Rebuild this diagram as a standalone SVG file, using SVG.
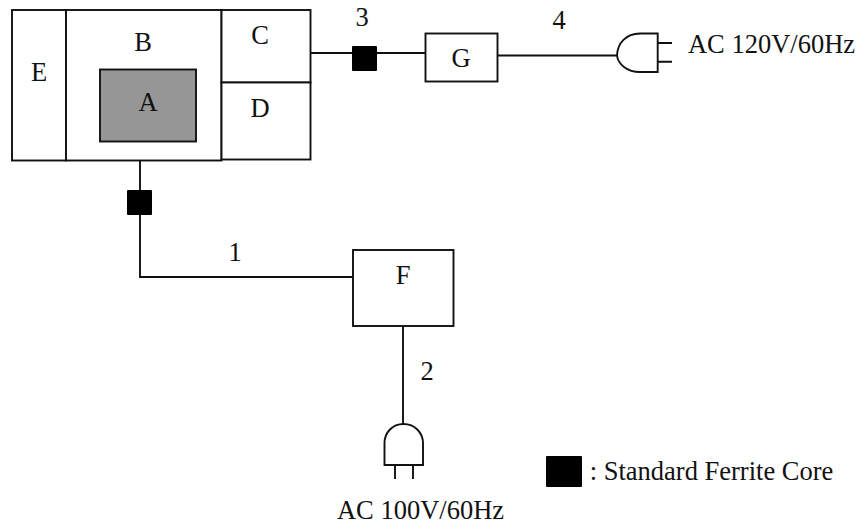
<svg xmlns="http://www.w3.org/2000/svg" width="861" height="526" viewBox="0 0 861 526">
<style>
text{font-family:"Liberation Serif","Times New Roman",serif;font-size:26.5px;fill:#111;text-anchor:middle}
.b{fill:#fff;stroke:#111;stroke-width:1.9}
.l{fill:none;stroke:#111;stroke-width:1.9}
.f{fill:#000;stroke:none}
</style>
<rect width="861" height="526" fill="#fff"/>
<g id="connectors">
<path class="l" d="M311 53H352M377 53H425M498 55.500H617"/>
<path class="l" d="M140 161V190M140 215V277H353"/>
<path class="l" d="M403 326V424"/>
</g>
<g id="node-E"><rect class="b" x="12" y="10" width="54" height="150.500"/><text x="39" y="81">E</text></g>
<g id="node-B"><rect class="b" x="66" y="10" width="155.500" height="150.500"/><text x="143" y="51">B</text></g>
<g id="node-A"><rect x="100" y="69.500" width="96" height="72" fill="#969696" stroke="#111" stroke-width="1.900"/><text x="148" y="111">A</text></g>
<g id="node-C"><rect class="b" x="221.500" y="10" width="89" height="72.500"/><text x="260" y="44">C</text></g>
<g id="node-D"><rect class="b" x="221.500" y="82.500" width="89" height="77"/><text x="260" y="117">D</text></g>
<g id="node-G"><rect class="b" x="425.500" y="33.500" width="72" height="48"/><text x="461" y="67">G</text></g>
<g id="node-F"><rect class="b" x="353" y="250" width="100.500" height="76"/><text x="403" y="284">F</text></g>
<g id="core-1"><rect class="f" x="127" y="190" width="25" height="25" rx="1"/></g>
<g id="core-3"><rect class="f" x="352" y="46" width="25" height="25" rx="1"/></g>
<g id="plug-ac120">
<path class="l" d="M657.700 33.500H640C626 33.500 617.500 43 617 55.500C618 64 627 72 640 72H657.700ZM657.700 43H672M657.700 61.700H672"/>
<text x="771.500" y="53">AC 120V/60Hz</text>
</g>
<g id="plug-ac100">
<path class="l" d="M403.500 424C392 424 384.500 433 384.500 443V465H423V443C423 433 415 424 403.500 424ZM395 465V479M413 465V479"/>
<text x="420.500" y="519">AC 100V/60Hz</text>
</g>
<g id="legend">
<rect class="f" x="546" y="456" width="36" height="31" rx="1"/>
<text x="711.500" y="480">: Standard Ferrite Core</text>
</g>
<text x="235" y="261">1</text>
<text x="427" y="380">2</text>
<text x="362" y="26">3</text>
<text x="559" y="29">4</text>
</svg>
